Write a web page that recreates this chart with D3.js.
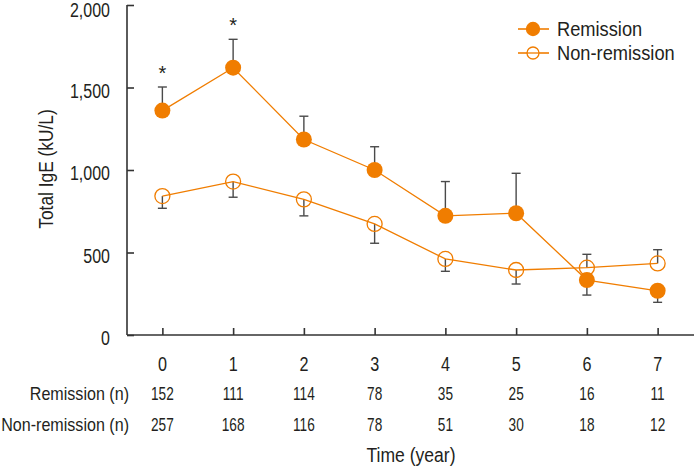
<!DOCTYPE html>
<html><head><meta charset="utf-8">
<script src="https://cdn.jsdelivr.net/npm/d3@7"></script>
<style>
body{margin:0;background:#fff;}
text{font-family:"Liberation Sans",Arial,sans-serif;fill:#231f20;}
</style></head><body>
<svg id="c" width="694" height="469"></svg>
<script>
const years = [0,1,2,3,4,5,6,7];
const remission = [1360,1620,1185,1000,722,738,333,268];
const remissionErr = [143,172,141,141,208,242,-91,-70];
const nonRemission = [842,930,822,673,461,394,408,434];
const nonRemissionErr = [-74,-95,-100,-117,-75,-85,81,83];
const remissionN = [152,111,114,78,35,25,16,11];
const nonRemissionN = [257,168,116,78,51,30,18,12];
const yTicks = [0,500,1000,1500,2000];
const starYears = [0,1];

const svg = d3.select("#c");
const orange = "#f07d00";
const grey = "#4a4a4a";
const x = d3.scaleLinear().domain([-0.5,7.5]).range([127,693]);
const y = d3.scaleLinear().domain([0,2000]).range([335,5]);

function ctext(px, py, str, size, sx, anchor, rot){
  return svg.append("text")
    .attr("transform",`translate(${px},${py})${rot?` rotate(${rot})`:""} scale(${sx},1)`)
    .attr("text-anchor",anchor).attr("dy","0.35em").attr("font-size",size).text(str);
}

// axes
const yAxis = d3.axisLeft(y).tickValues(yTicks).tickSize(-7).tickFormat("");
const gy = svg.append("g").attr("transform","translate(127,0)").call(yAxis);
gy.select(".domain").attr("d","M0,5V335").attr("stroke","#333").attr("stroke-width",1.6);
gy.selectAll(".tick line").attr("stroke","#333").attr("stroke-width",1.6);
yTicks.forEach(t=> ctext(110, Math.max(y(t)+3.5, 10), d3.format(",")(t), 19.5, 0.82, "end"));

const xAxis = d3.axisBottom(x).tickValues(years).tickSize(-7).tickFormat("");
const gx = svg.append("g").attr("transform","translate(0,335)").call(xAxis);
gx.select(".domain").attr("d","M127,0H694").attr("stroke","#333").attr("stroke-width",1.6);
gx.selectAll(".tick line").attr("stroke","#333").attr("stroke-width",1.6);
years.forEach(t=> ctext(x(t), 363.5, String(t), 21, 0.77, "middle"));

ctext(46, 169, "Total IgE (kU/L)", 19.5, 0.89, "middle", -90);

const rows = [["Remission (n)",remissionN,394],["Non-remission (n)",nonRemissionN,424.5]];
rows.forEach(([lab,vals,yy])=>{
  ctext(129, yy, lab, 17.5, 0.92, "end");
  vals.forEach((v,i)=> ctext(x(years[i]), yy, String(v), 17.5, 0.78, "middle"));
});
ctext(411, 455, "Time (year)", 19.5, 0.9, "middle");

function errBars(vals, errs){
  const g = svg.append("g").attr("stroke",grey).attr("stroke-width",1.4);
  vals.forEach((v,i)=>{
    const cx = x(years[i]), y0 = y(v), y1 = y(v+errs[i]);
    g.append("line").attr("x1",cx).attr("x2",cx).attr("y1",y0).attr("y2",y1);
    g.append("line").attr("x1",cx-4.5).attr("x2",cx+4.5).attr("y1",y1).attr("y2",y1);
  });
}
errBars(remission, remissionErr);
errBars(nonRemission, nonRemissionErr);

const line = d3.line().x((d,i)=>x(years[i])).y(d=>y(d));
svg.append("path").datum(nonRemission).attr("d",line).attr("fill","none").attr("stroke",orange).attr("stroke-width",1.3);
svg.append("path").datum(remission).attr("d",line).attr("fill","none").attr("stroke",orange).attr("stroke-width",1.3);

svg.selectAll(null).data(nonRemission).enter().append("circle")
  .attr("cx",(d,i)=>x(years[i])).attr("cy",d=>y(d)).attr("r",7.5)
  .attr("fill","none").attr("stroke",orange).attr("stroke-width",1.3);
svg.selectAll(null).data(remission).enter().append("circle")
  .attr("cx",(d,i)=>x(years[i])).attr("cy",d=>y(d)).attr("r",8)
  .attr("fill",orange);

starYears.forEach(i=>{
  svg.append("text").attr("x",x(years[i])).attr("y",y(remission[i]+remissionErr[i])-7)
    .attr("text-anchor","middle").attr("font-size",20).attr("fill","#333").text("*");
});

const leg = [["Remission",true,29],["Non-remission",false,53]];
leg.forEach(([lab,filled,ly])=>{
  svg.append("line").attr("x1",518).attr("x2",549).attr("y1",ly).attr("y2",ly).attr("stroke",orange).attr("stroke-width",1.6);
  svg.append("circle").attr("cx",533).attr("cy",ly).attr("r",filled?6.5:6)
    .attr("fill",filled?orange:"#fff").attr("stroke",orange).attr("stroke-width",1.3);
  if(!filled) svg.append("line").attr("x1",527).attr("x2",539).attr("y1",ly).attr("y2",ly).attr("stroke",orange).attr("stroke-width",1.3);
  ctext(557, ly, lab, 21, 0.87, "start");
});
</script>
</body></html>
